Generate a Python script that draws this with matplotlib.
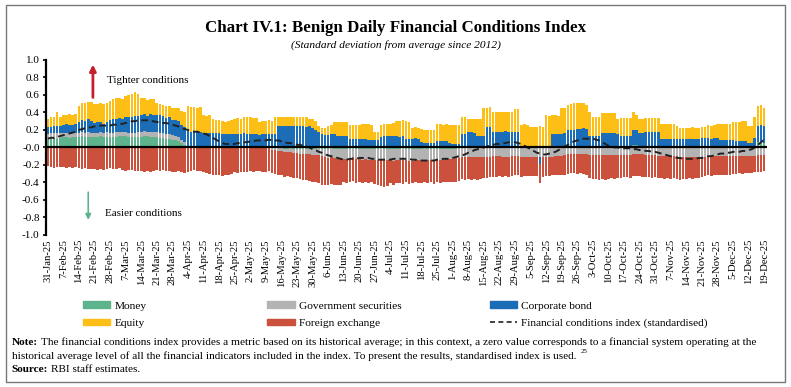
import matplotlib
matplotlib.use("Agg")
import matplotlib.pyplot as plt
from matplotlib.patches import Patch, Rectangle
from matplotlib.lines import Line2D
import numpy as np

plt.rcParams['font.family'] = ['Liberation Serif', 'DejaVu Serif']
plt.rcParams['axes.unicode_minus'] = False

# one row per week: Fri, Mon, Tue, Wed, Thu (week starts at the tick date)
week_labels = ['31-Jan-25', '7-Feb-25', '14-Feb-25', '21-Feb-25', '28-Feb-25', '7-Mar-25',
               '14-Mar-25', '21-Mar-25', '28-Mar-25', '4-Apr-25', '11-Apr-25', '18-Apr-25',
               '25-Apr-25', '2-May-25', '9-May-25', '16-May-25', '23-May-25', '30-May-25',
               '6-Jun-25', '13-Jun-25', '20-Jun-25', '27-Jun-25', '4-Jul-25', '11-Jul-25',
               '18-Jul-25', '25-Jul-25', '1-Aug-25', '8-Aug-25', '15-Aug-25', '22-Aug-25',
               '29-Aug-25', '5-Sep-25', '12-Sep-25', '19-Sep-25', '26-Sep-25', '3-Oct-25',
               '10-Oct-25', '17-Oct-25', '24-Oct-25', '31-Oct-25', '7-Nov-25', '14-Nov-25',
               '21-Nov-25', '28-Nov-25', '5-Dec-25', '12-Dec-25', '19-Dec-25']

money = [
    .09, .10, .11, .10, .11,
    .12, .12, .11, .12, .12,
    .12, .13, .12, .12, .12,
    .12, .12, .13, .12, .12,
    .12, .12, .12, .13, .13,
    .13, .12, .12, .12, .12,
    .12, .13, .13, .12, .12,
    .12, .11, .11, .10, .10,
    .09, .08, .07, .05, .03,
    .01, 0, 0, 0, 0,
    0, 0, 0, 0, 0,
    0, 0, 0, 0, 0,
    0, 0, 0, 0, 0,
    0, 0, 0, 0, 0,
    0, 0, -.01, -.01, -.01,
    -.01, -.02, -.02, -.01, -.02,
    -.02, -.02, -.02, -.02, -.02,
    -.02, -.02, -.01, -.02, -.02,
    -.02, -.01, -.02, -.02, -.02,
    -.02, -.02, -.02, -.01, -.02,
    -.02, -.02, -.02, -.02, -.02,
    -.02, -.02, -.01, -.02, -.02,
    -.02, -.02, -.02, -.02, -.01,
    -.02, -.02, -.02, -.02, -.02,
    -.02, -.01, -.02, -.02, -.02,
    -.02, -.02, -.02, -.02, -.02,
    -.02, -.02, -.01, -.01, -.01,
    -.01, -.01, -.01, -.01, -.01,
    -.01, -.01, -.01, -.01, -.01,
    -.01, -.01, -.01, -.01, -.01,
    -.01, -.01, -.01, -.01, -.01,
    -.01, -.01, -.01, -.01, -.01,
    -.01, -.01, -.01, -.01, -.01,
    -.01, .01, .02, .02, .02,
    .02, .02, .01, .01, 0,
    0, 0, 0, 0, 0,
    0, 0, 0, 0, 0,
    0, 0, 0, .03, .03,
    .02, .01, 0, 0, 0,
    0, 0, 0, 0, 0,
    0, 0, 0, 0, 0,
    0, 0, 0, 0, 0,
    0, 0, 0, 0, 0,
    0, 0, 0, 0, 0,
    0, 0, 0, 0, 0,
    0, 0, .01, .06, .07,
    .05,
]

gsec = [
    .06, .06, .05, .06, .05,
    .05, .05, .06, .05, .05,
    .05, .05, .05, .06, .05,
    .05, .05, .05, .05, .06,
    .05, .05, .06, .05, .05,
    .05, .05, .05, .05, .06,
    .06, .06, .05, .06, .06,
    .06, .06, .06, .05, .05,
    .05, .05, .05, .04, .03,
    .01, 0, 0, 0, 0,
    0, 0, 0, 0, 0,
    0, 0, 0, 0, 0,
    0, 0, 0, 0, 0,
    0, 0, 0, 0, 0,
    0, 0, -.02, -.02, -.03,
    -.03, -.03, -.03, -.04, -.04,
    -.04, -.05, -.05, -.06, -.06,
    -.07, -.07, -.08, -.08, -.09,
    -.10, -.10, -.10, -.11, -.11,
    -.11, -.11, -.11, -.10, -.11,
    -.11, -.12, -.11, -.12, -.12,
    -.12, -.12, -.13, -.12, -.12,
    -.12, -.13, -.12, -.12, -.13,
    -.12, -.13, -.13, -.12, -.12,
    -.13, -.13, -.12, -.12, -.13,
    -.12, -.12, -.12, -.11, -.11,
    -.11, -.10, -.11, -.10, -.10,
    -.10, -.10, -.10, -.10, -.10,
    -.10, -.10, -.10, -.09, -.09,
    -.09, -.10, -.10, -.10, -.09,
    -.09, -.09, -.10, -.10, -.10,
    -.10, -.10, -.10, -.10, -.10,
    -.10, -.10, -.10, -.09, -.09,
    -.09, -.09, -.08, -.08, -.08,
    -.08, -.08, -.08, -.08, -.09,
    -.09, -.09, -.09, -.09, -.09,
    -.09, -.09, -.09, -.09, -.09,
    -.09, -.09, -.09, -.08, -.08,
    -.08, -.08, -.09, -.09, -.09,
    -.09, -.10, -.10, -.10, -.10,
    -.10, -.10, -.10, -.11, -.11,
    -.11, -.11, -.11, -.11, -.11,
    -.11, -.11, -.10, -.10, -.10,
    -.10, -.10, -.10, -.10, -.10,
    -.10, -.10, -.10, -.10, -.10,
    -.10, -.10, -.10, -.09, -.09,
    -.09,
]

corp = [
    .08, .07, .08, .09, .08,
    .09, .10, .09, .09, .10,
    .12, .13, .13, .14, .13,
    .11, .12, .11, .10, .11,
    .14, .15, .15, .16, .15,
    .17, .18, .18, .19, .18,
    .19, .19, .18, .20, .19,
    .19, .20, .19, .19, .20,
    .17, .18, .18, .17, .17,
    .17, .18, .18, .18, .18,
    .17, .16, .16, .16, .16,
    .16, .15, .15, .15, .15,
    .15, .15, .15, .16, .15,
    .15, .15, .15, .14, .15,
    .15, .15, .15, .15, .24,
    .24, .24, .25, .24, .24,
    .24, .25, .24, .23, .24,
    .22, .20, .18, .15, .14,
    .14, .15, .15, .13, .13,
    .13, .13, .10, .10, .10,
    .10, .10, .10, .09, .09,
    .09, .09, .12, .13, .13,
    .13, .13, .13, .12, .13,
    .10, .10, .10, .11, .10,
    .06, .05, .05, .05, .05,
    .07, .07, .07, .07, .05,
    .04, .04, .04, .15, .15,
    .18, .18, .17, .13, .13,
    .13, .23, .23, .18, .18,
    .18, .18, .19, .18, .18,
    .18, .18, .02, .02, .02,
    .02, .02, .02, -.08, .02,
    .02, .02, .15, .15, .15,
    .15, .15, .18, .18, .18,
    .19, .19, .21, .20, .13,
    .13, .13, .13, .16, .16,
    .16, .16, .16, .15, .13,
    .13, .13, .13, .17, .17,
    .15, .16, .18, .18, .18,
    .18, .18, .10, .10, .10,
    .10, .10, .10, .10, .10,
    .10, .10, .10, .10, .10,
    .11, .11, .11, .10, .11,
    .11, .09, .09, .09, .09,
    .09, .07, .07, .07, .07,
    .05, .05, .10, .19, .19,
    .20,
]

equity = [
    .10, .12, .11, .16, .11,
    .11, .10, .12, .11, .11,
    .18, .20, .21, .20, .22,
    .22, .21, .22, .23, .22,
    .22, .23, .24, .23, .22,
    .24, .25, .26, .27, .25,
    .19, .18, .18, .17, .18,
    .14, .13, .12, .13, .12,
    .14, .14, .15, .16, .17,
    .28, .28, .28, .27, .28,
    .20, .20, .21, .16, .15,
    .15, .15, .14, .15, .16,
    .18, .19, .18, .19, .20,
    .20, .19, .19, .15, .15,
    .15, .16, .15, .20, .11,
    .11, .11, .10, .11, .11,
    .11, .10, .11, .12, .08,
    .10, .10, .06, .07, .08,
    .10, .11, .14, .16, .16,
    .16, .16, .16, .16, .16,
    .16, .17, .17, .18, .17,
    .09, .09, .14, .14, .14,
    .14, .15, .17, .18, .18,
    .20, .19, .12, .12, .12,
    .15, .15, .15, .15, .15,
    .20, .20, .19, .20, .21,
    .22, .22, .22, .20, .20,
    .15, .15, .16, .19, .19,
    .32, .22, .23, .23, .23,
    .23, .23, .22, .23, .23,
    .26, .26, .24, .25, .24,
    .21, .21, .21, .25, .21,
    .35, .34, .22, .22, .21,
    .30, .29, .28, .30, .31,
    .30, .30, .29, .28, .28,
    .22, .22, .22, .23, .23,
    .23, .23, .23, .18, .21,
    .21, .21, .21, .20, .17,
    .16, .16, .16, .16, .16,
    .16, .16, .17, .17, .17,
    .17, .17, .15, .12, .12,
    .12, .12, .13, .12, .12,
    .12, .12, .15, .15, .15,
    .16, .18, .18, .18, .18,
    .20, .22, .22, .23, .23,
    .19, .19, .24, .22, .22,
    .20,
]

fx = [
    -.21, -.22, -.23, -.22, -.22,
    -.22, -.23, -.22, -.23, -.22,
    -.24, -.25, -.24, -.25, -.25,
    -.25, -.26, -.25, -.26, -.25,
    -.24, -.25, -.25, -.24, -.26,
    -.27, -.26, -.26, -.27, -.27,
    -.27, -.28, -.27, -.28, -.27,
    -.26, -.27, -.26, -.27, -.27,
    -.28, -.28, -.27, -.28, -.29,
    -.28, -.27, -.26, -.27, -.27,
    -.28, -.29, -.30, -.31, -.32,
    -.32, -.33, -.31, -.31, -.30,
    -.28, -.29, -.28, -.28, -.28,
    -.27, -.28, -.27, -.27, -.28,
    -.28, -.27, -.26, -.27, -.27,
    -.28, -.29, -.28, -.29, -.29,
    -.29, -.29, -.30, -.29, -.30,
    -.31, -.31, -.32, -.33, -.32,
    -.31, -.31, -.31, -.30, -.30,
    -.27, -.28, -.27, -.27, -.28,
    -.27, -.27, -.26, -.27, -.26,
    -.28, -.29, -.30, -.31, -.30,
    -.27, -.28, -.27, -.27, -.28,
    -.26, -.27, -.26, -.26, -.27,
    -.26, -.26, -.27, -.26, -.27,
    -.26, -.27, -.26, -.26, -.26,
    -.26, -.27, -.26, -.25, -.26,
    -.25, -.26, -.25, -.26, -.25,
    -.24, -.24, -.23, -.24, -.24,
    -.23, -.23, -.22, -.23, -.23,
    -.22, -.22, -.23, -.22, -.22,
    -.22, -.22, -.22, -.22, -.23,
    -.22, -.22, -.21, -.22, -.22,
    -.21, -.22, -.22, -.21, -.21,
    -.22, -.21, -.22, -.23, -.26,
    -.27, -.27, -.28, -.27, -.28,
    -.27, -.26, -.27, -.26, -.26,
    -.25, -.25, -.26, -.25, -.25,
    -.25, -.26, -.25, -.25, -.26,
    -.25, -.25, -.25, -.26, -.25,
    -.26, -.25, -.26, -.26, -.25,
    -.25, -.24, -.25, -.24, -.24,
    -.23, -.22, -.22, -.23, -.22,
    -.22, -.21, -.21, -.21, -.22,
    -.20, -.20, -.19, -.20, -.19,
    -.19, -.19, -.18, -.19, -.19,
    -.18,
]

fci = [
    .10, .11, .11, .12, .13,
    .14, .15, .16, .17, .18,
    .20, .21, .22, .23, .23,
    .24, .24, .25, .25, .25,
    .25, .26, .26, .27, .27,
    .28, .29, .30, .30, .31,
    .31, .31, .31, .30, .30,
    .29, .29, .28, .28, .27,
    .26, .25, .24, .22, .21,
    .20, .19, .18, .18, .17,
    .16, .15, .13, .11, .09,
    .07, .05, .04, .04, .04,
    .04, .05, .05, .06, .06,
    .07, .07, .08, .08, .08,
    .08, .09, .08, .08, .08,
    .07, .06, .05, .05, .04,
    .03, .03, .02, .01, .00,
    -.02, -.03, -.05, -.06, -.08,
    -.09, -.10, -.11, -.12, -.13,
    -.14, -.14, -.13, -.13, -.13,
    -.12, -.12, -.12, -.12, -.13,
    -.13, -.14, -.14, -.14, -.14,
    -.14, -.13, -.13, -.13, -.13,
    -.13, -.13, -.14, -.14, -.15,
    -.15, -.15, -.15, -.15, -.15,
    -.14, -.14, -.13, -.13, -.13,
    -.12, -.11, -.10, -.09, -.08,
    -.06, -.05, -.03, -.02, -.01,
    .00, .01, .02, .03, .04,
    .04, .05, .05, .06, .06,
    .06, .05, .04, .02, .00,
    -.02, -.04, -.06, -.07, -.08,
    -.08, -.07, -.06, -.05, -.03,
    -.01, .01, .03, .05, .07,
    .08, .09, .10, .10, .10,
    .10, .09, .08, .06, .04,
    .02, .01, .00, .00, -.01,
    -.01, -.01, -.01, -.02, -.02,
    -.03, -.03, -.04, -.04, -.05,
    -.05, -.06, -.07, -.08, -.09,
    -.10, -.11, -.12, -.12, -.13,
    -.13, -.13, -.13, -.13, -.12,
    -.12, -.11, -.10, -.10, -.09,
    -.08, -.07, -.07, -.06, -.06,
    -.05, -.05, -.05, -.04, -.04,
    -.03, -.02, .00, .03, .06,
    .09,
]

series = [('Money', money, '#5DB48C'),
          ('Government securities', gsec, '#B3B3B3'),
          ('Corporate bond', corp, '#1A6DB6'),
          ('Equity', equity, '#FDBF16'),
          ('Foreign exchange', fx, '#CB513D')]

fig = plt.figure(figsize=(7.91, 3.87), dpi=100)
ax = fig.add_axes([0.058, 0.393, 0.912, 0.452])

x = np.arange(len(fci))
pos = np.zeros(len(x))
neg = np.zeros(len(x))
for name, vals, col in series:
    v = np.array(vals)
    bottom = np.where(v >= 0, pos, neg)
    ax.bar(x, v, bottom=bottom, width=0.85, color=col, linewidth=0)
    pos = pos + np.clip(v, 0, None)
    neg = neg + np.clip(v, None, 0)

ax.plot(x, fci, color='#222222', lw=1.4, ls=(0, (3.5, 2)))
ax.axhline(0, color='black', lw=1.6)

ax.set_xlim(-0.6, len(x))
ax.set_ylim(-1.0, 1.0)
ax.set_yticks(np.arange(-1.0, 1.01, 0.2))
ax.yaxis.set_major_formatter(matplotlib.ticker.FormatStrFormatter('%.1f'))
ax.set_xticks(np.arange(0, len(x), 5))
ax.set_xticklabels(week_labels, rotation=90, fontsize=7.7)
ax.tick_params(axis='x', length=0, pad=3)
ax.tick_params(axis='y', labelsize=8, length=2.5, width=1.2, pad=2)
for s in ['top', 'right', 'bottom']:
    ax.spines[s].set_visible(False)
ax.spines['left'].set_linewidth(1.6)

# direction markers
ax.annotate('', xy=(14.5, 0.98), xytext=(14.5, 0.54),
            arrowprops=dict(arrowstyle='-|>', color='#C3202B', lw=2, mutation_scale=9))
ax.text(19, 0.76, 'Tighter conditions', fontsize=8, va='center')
ax.annotate('', xy=(13, -0.86), xytext=(13, -0.48),
            arrowprops=dict(arrowstyle='-|>', color='#5DB48C', lw=1.2, mutation_scale=8))
ax.text(18.4, -0.76, 'Easier conditions', fontsize=8, va='center')

fig.text(0.5, 0.928, 'Chart IV.1: Benign Daily Financial Conditions Index',
         ha='center', va='center', fontsize=12.2, fontweight='bold')
fig.text(0.5, 0.884, '(Standard deviation from average since 2012)',
         ha='center', va='center', fontsize=8.2, style='italic')

# legend in three columns
h = {name: Patch(color=col) for name, vals, col in series}
h['Financial conditions index (standardised)'] = Line2D([], [], color='#222222', lw=1.2, ls=(0, (3, 2)))
cols = [(['Money', 'Equity'], 0.105),
        (['Government securities', 'Foreign exchange'], 0.338),
        (['Corporate bond', 'Financial conditions index (standardised)'], 0.619)]
for names, lx in cols:
    fig.legend([h[n] for n in names], names, loc='upper left', bbox_to_anchor=(lx, 0.222),
               frameon=False, fontsize=8.2, handlelength=2.4, handleheight=0.55,
               handletextpad=0.35, labelspacing=0.7, borderpad=0, borderaxespad=0)

fig.canvas.draw()
r = fig.canvas.get_renderer()
inv = fig.transFigure.inverted()

n1 = fig.text(0.015, 0.116, 'Note:', fontsize=8.1, fontweight='bold', va='center')
x1 = inv.transform(n1.get_window_extent(r))[1][0]
fig.text(x1 + 0.004, 0.116, 'The financial conditions index provides a metric based on its historical '
         'average; in this context, a zero value corresponds to a financial system operating at the',
         fontsize=8.1, va='center')
l2 = fig.text(0.015, 0.080, 'historical average level of all the financial indicators included in the index. '
              'To present the results, standardised index is used.', fontsize=8.1, va='center')
x2 = inv.transform(l2.get_window_extent(r))[1][0]
fig.text(x2 + 0.005, 0.092, '25', fontsize=5, va='center')
s1 = fig.text(0.015, 0.046, 'Source:', fontsize=8.1, fontweight='bold', va='center')
x3 = inv.transform(s1.get_window_extent(r))[1][0]
fig.text(x3 + 0.004, 0.046, 'RBI staff estimates.', fontsize=8.1, va='center')

fig.patches.append(Rectangle((0.007, 0.012), 0.986, 0.976, transform=fig.transFigure,
                             fill=False, edgecolor='#777777', lw=1.0))

fig.savefig('out.png', dpi=100)
